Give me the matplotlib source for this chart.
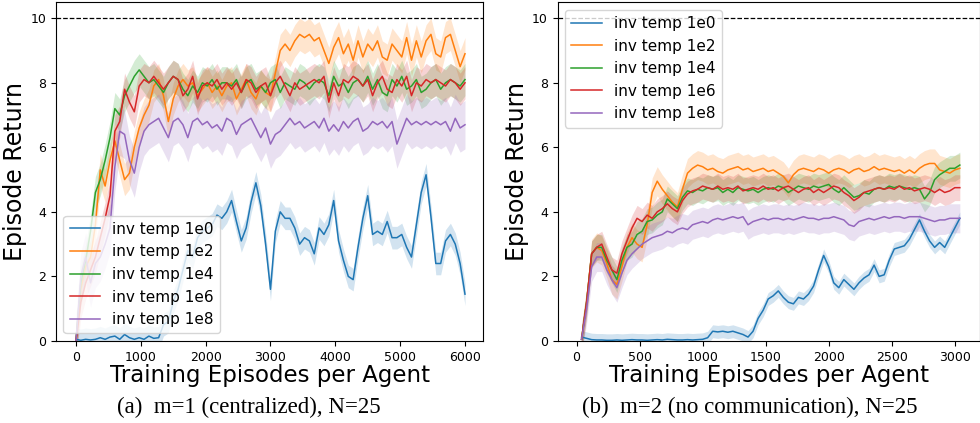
import numpy as np
import matplotlib
matplotlib.use('Agg')
import matplotlib.pyplot as plt


# ============================================================
# Data
# ============================================================

labels = ['inv temp 1e0', 'inv temp 1e2', 'inv temp 1e4', 'inv temp 1e6', 'inv temp 1e8']

# --- (a) m=1 (centralized), N=25 : one point every 75 episodes, 0..6000
x_a = np.arange(0, 6001, 75)

a_1e0 = [0.05, 0.02, 0.05, 0.03, 0.05, 0.10, 0.05, 0.12, 0.15, 0.05, 0.20, 0.10, 0.05, 0.10,
         0.05, 0.15, 0.08, 0.10, 0.50, 0.60, 1.20, 1.60, 2.20, 2.80, 2.60, 3.20, 3.40, 3.50,
         3.60, 3.90, 3.80, 4.00, 4.35, 3.70, 3.10, 3.50, 4.30, 4.90, 4.20, 3.00, 1.60, 3.40,
         4.00, 3.80, 3.80, 3.50, 3.00, 3.20, 3.10, 2.70, 3.50, 3.30, 3.60, 4.35, 3.10, 2.50,
         2.00, 1.90, 2.90, 3.80, 4.50, 3.30, 3.40, 3.30, 3.70, 3.20, 3.20, 3.30, 2.90, 2.60,
         3.60, 4.60, 5.15, 3.85, 2.40, 2.40, 3.10, 3.30, 3.00, 2.40, 1.45]
a_1e2 = [0.00, 1.60, 2.30, 2.60, 3.60, 5.30, 4.80, 5.60, 6.20, 5.60, 5.00, 5.20, 6.00, 6.60,
         7.00, 7.30, 7.90, 8.10, 7.60, 6.80, 7.50, 7.90, 8.10, 7.90, 8.00, 7.60, 7.80, 8.00,
         7.70, 7.90, 7.60, 7.90, 8.00, 7.50, 7.80, 8.10, 7.70, 7.50, 7.90, 7.70, 7.60, 8.30,
         9.00, 9.20, 9.00, 9.30, 9.50, 9.40, 9.50, 9.30, 9.40, 9.00, 8.60, 9.10, 9.40, 8.90,
         9.20, 8.70, 9.30, 8.80, 9.20, 9.00, 9.30, 8.80, 8.70, 9.20, 9.00, 8.80, 9.40, 8.70,
         9.30, 8.80, 9.30, 9.50, 8.90, 8.80, 9.40, 9.50, 9.00, 8.50, 8.90]
a_1e4 = [0.00, 1.80, 2.50, 3.40, 4.60, 5.00, 5.60, 6.30, 7.20, 7.00, 7.60, 7.90, 8.20, 8.40,
         8.20, 8.00, 8.10, 7.90, 7.70, 8.00, 8.20, 8.10, 7.80, 7.60, 7.90, 7.70, 8.00, 7.90,
         8.10, 7.80, 8.00, 8.00, 7.90, 8.10, 7.70, 8.00, 8.10, 7.80, 7.90, 7.70, 8.00, 8.10,
         7.70, 8.00, 7.90, 7.80, 8.10, 8.00, 7.80, 8.00, 8.10, 8.00, 7.60, 8.20, 7.90, 8.00,
         7.70, 8.00, 8.10, 7.90, 8.20, 7.80, 8.10, 7.70, 7.60, 8.10, 7.90, 8.20, 7.80, 7.90,
         8.10, 7.70, 7.80, 8.00, 8.10, 7.80, 8.00, 8.10, 8.00, 7.90, 8.10]
a_1e6 = [0.00, 1.20, 1.80, 2.20, 2.60, 3.20, 3.80, 4.50, 6.50, 6.80, 7.80, 7.40, 7.10, 7.90,
         8.10, 8.00, 8.20, 8.00, 7.80, 8.00, 8.20, 8.10, 7.60, 7.80, 8.20, 7.50, 7.90, 8.00,
         7.90, 8.10, 7.80, 8.00, 7.80, 8.00, 7.70, 8.10, 8.00, 7.70, 7.90, 8.00, 7.60, 8.00,
         8.20, 7.90, 7.60, 8.00, 7.80, 7.90, 8.00, 8.10, 8.00, 8.20, 7.40, 8.00, 7.60, 8.10,
         8.00, 8.20, 8.10, 7.90, 8.10, 7.60, 8.00, 8.20, 7.80, 7.70, 8.10, 7.90, 8.20, 7.60,
         8.00, 7.90, 8.10, 8.00, 8.10, 8.00, 7.90, 8.10, 8.00, 7.80, 8.00]
a_1e8 = [0.00, 2.00, 2.60, 1.80, 2.40, 2.60, 3.00, 3.50, 5.40, 6.50, 6.40, 5.60, 5.20, 6.00,
         6.50, 6.70, 6.80, 6.90, 6.60, 6.30, 6.80, 6.90, 6.70, 6.30, 6.80, 6.90, 6.70, 6.80,
         6.60, 6.70, 6.50, 6.90, 6.80, 6.40, 6.70, 6.80, 6.90, 6.60, 6.30, 6.60, 6.10, 6.40,
         6.50, 6.70, 6.90, 6.70, 6.80, 6.60, 6.70, 6.80, 6.60, 6.90, 6.50, 6.70, 6.50, 6.80,
         6.60, 6.80, 6.90, 6.50, 6.60, 6.80, 6.70, 6.80, 6.60, 6.80, 6.10, 6.50, 6.90, 6.70,
         6.80, 6.70, 6.80, 6.70, 6.80, 6.70, 6.80, 6.50, 6.90, 6.60, 6.70]
spread_a = [0.35, 0.50, 0.50, 0.50, 0.75]

# --- (b) m=2 (no communication), N=25 : one point every 40 episodes, 40..3040
x_b = np.arange(40, 3041, 40)

b_1e0 = [0.12, 0.08, 0.04, 0.03, 0.03, 0.02, 0.02, 0.03, 0.02, 0.03, 0.04, 0.03, 0.03, 0.02,
         0.03, 0.04, 0.03, 0.05, 0.04, 0.03, 0.03, 0.04, 0.03, 0.04, 0.05, 0.10, 0.30, 0.28,
         0.30, 0.27, 0.30, 0.25, 0.20, 0.12, 0.30, 0.70, 0.95, 1.30, 1.40, 1.55, 1.35, 1.20,
         1.15, 1.35, 1.30, 1.45, 1.70, 2.20, 2.65, 2.30, 1.80, 1.65, 1.90, 1.75, 1.60, 1.80,
         1.95, 2.05, 2.35, 2.00, 2.05, 2.50, 2.85, 2.90, 2.95, 3.15, 3.45, 3.75, 3.40, 3.10,
         2.90, 3.05, 2.90, 3.20, 3.50, 3.80]
b_1e2 = [0.05, 1.20, 2.70, 2.90, 2.80, 2.40, 1.90, 1.75, 2.30, 2.90, 3.20, 3.00, 2.90, 3.60,
         4.60, 4.95, 4.70, 4.50, 4.30, 4.15, 4.70, 5.20, 5.35, 5.45, 5.40, 5.30, 5.35, 5.25,
         5.20, 5.30, 5.35, 5.40, 5.30, 5.35, 5.25, 5.30, 5.35, 5.25, 5.30, 5.20, 5.10, 4.90,
         5.15, 5.30, 5.35, 5.30, 5.25, 5.35, 5.30, 5.20, 5.30, 5.35, 5.30, 5.20, 5.30, 5.35,
         5.25, 5.30, 5.40, 5.30, 5.35, 5.30, 5.25, 5.30, 5.20, 5.30, 5.20, 5.35, 5.45, 5.50,
         5.50, 5.30, 5.25, 5.20, 5.30, 5.35]
b_1e4 = [0.05, 1.20, 2.70, 2.90, 2.90, 2.50, 2.20, 1.90, 2.50, 2.90, 3.00, 3.30, 3.40, 3.70,
         3.75, 3.90, 4.00, 4.40, 4.25, 4.10, 4.45, 4.65, 4.60, 4.70, 4.65, 4.75, 4.70, 4.75,
         4.60, 4.70, 4.60, 4.75, 4.70, 4.65, 4.70, 4.60, 4.70, 4.75, 4.70, 4.80, 4.75, 4.60,
         4.70, 4.80, 4.75, 4.70, 4.80, 4.75, 4.80, 4.85, 4.70, 4.60, 4.75, 4.60, 4.45, 4.50,
         4.60, 4.55, 4.70, 4.75, 4.70, 4.80, 4.75, 4.80, 4.75, 4.70, 4.75, 4.70, 4.40, 4.60,
         5.00, 5.15, 5.25, 5.35, 5.35, 5.45]
b_1e6 = [0.05, 1.20, 2.70, 2.90, 3.00, 2.60, 2.20, 2.10, 2.70, 3.10, 3.50, 3.80, 3.70, 3.90,
         3.80, 4.00, 4.10, 4.25, 4.10, 4.00, 4.35, 4.55, 4.65, 4.70, 4.80, 4.75, 4.70, 4.80,
         4.70, 4.75, 4.70, 4.80, 4.65, 4.70, 4.75, 4.70, 4.80, 4.70, 4.75, 4.65, 4.75, 4.80,
         4.70, 4.60, 4.70, 4.75, 4.60, 4.70, 4.60, 4.70, 4.80, 4.75, 4.60, 4.50, 4.35, 4.45,
         4.60, 4.65, 4.70, 4.75, 4.70, 4.75, 4.70, 4.80, 4.70, 4.75, 4.65, 4.70, 4.75, 4.70,
         4.60, 4.70, 4.60, 4.65, 4.75, 4.75]
b_1e8 = [0.05, 1.00, 2.30, 2.60, 2.60, 2.20, 1.90, 1.65, 2.10, 2.50, 2.70, 2.85, 3.00, 3.10,
         3.20, 3.25, 3.30, 3.40, 3.35, 3.45, 3.50, 3.45, 3.60, 3.65, 3.70, 3.65, 3.75, 3.80,
         3.75, 3.80, 3.85, 3.80, 3.85, 3.60, 3.70, 3.75, 3.80, 3.75, 3.80, 3.80, 3.75, 3.80,
         3.75, 3.80, 3.85, 3.80, 3.80, 3.75, 3.80, 3.80, 3.85, 3.80, 3.75, 3.60, 3.55, 3.70,
         3.75, 3.80, 3.75, 3.80, 3.85, 3.80, 3.85, 3.85, 3.80, 3.85, 3.85, 3.85, 3.80, 3.75,
         3.70, 3.75, 3.75, 3.80, 3.80, 3.80]
spread_b = [0.20, 0.45, 0.40, 0.40, 0.45]

COLORS = ['tab:blue', 'tab:orange', 'tab:green', 'tab:red', 'tab:purple']
TARGET = 10


# ============================================================
# Plot
# ============================================================

fig = plt.figure(figsize=(9.8, 4.23), dpi=100)
ax_a = fig.add_axes([0.057, 0.194, 0.436, 0.801])
ax_b = fig.add_axes([0.569, 0.194, 0.431, 0.801])


def draw(ax, x, series, spreads, xlim, xticks, legend_loc):
    for y, s, c, lab in zip(series, spreads, COLORS, labels):
        y = np.asarray(y)
        ax.fill_between(x, y - s, y + s, color=c, alpha=0.2, linewidth=0)
        ax.plot(x, y, color=c, linewidth=1.1, label=lab)
    ax.axhline(TARGET, color='black', linestyle='--', linewidth=0.9)
    ax.set_xlim(*xlim)
    ax.set_ylim(0, 10.5)
    ax.set_xticks(xticks)
    ax.set_yticks([0, 2, 4, 6, 8, 10])
    ax.tick_params(labelsize=9)
    ax.set_xlabel('Training Episodes per Agent', fontsize=16.5, labelpad=0)
    ax.set_ylabel('Episode Return', fontsize=17, labelpad=2)
    ax.legend(loc=legend_loc, fontsize=11)


draw(ax_a, x_a, [a_1e0, a_1e2, a_1e4, a_1e6, a_1e8], spread_a,
     (-310, 6280), [0, 1000, 2000, 3000, 4000, 5000, 6000], 'lower left')
draw(ax_b, x_b, [b_1e0, b_1e2, b_1e4, b_1e6, b_1e8], spread_b,
     (-150, 3200), [0, 500, 1000, 1500, 2000, 2500, 3000], 'upper left')

fig.text(249 / 980, 1 - 407 / 423, '(a)  m=1 (centralized), N=25',
         ha='center', va='center', fontsize=16.5, family='Liberation Serif')
fig.text(750 / 980, 1 - 407 / 423, '(b)  m=2 (no communication), N=25',
         ha='center', va='center', fontsize=16.5, family='Liberation Serif')

fig.savefig('out.png', dpi=100)
